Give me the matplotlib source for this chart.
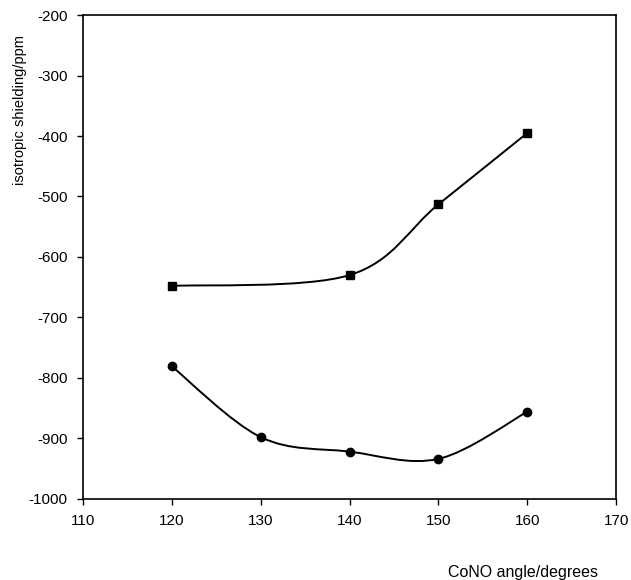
import numpy as np
import matplotlib.pyplot as plt
from matplotlib.path import Path
from matplotlib.patches import PathPatch

plt.rcParams['font.family'] = ['Liberation Sans', 'DejaVu Sans']
plt.rcParams['axes.unicode_minus'] = False

# CoNO angle (degrees) vs isotropic shielding (ppm)
angle_sq = [120, 140, 150, 160]
shield_sq = [-648, -630, -513, -395]

angle_ci = [120, 130, 140, 150, 160]
shield_ci = [-781, -898, -922, -934, -856]

xticks = [110, 120, 130, 140, 150, 160, 170]
yticks = [-1000, -900, -800, -700, -600, -500, -400, -300, -200]


def smooth_path(ax, xs, ys):
	# cubic bezier through the points, like a spreadsheet "smoothed line"
	p = np.column_stack([xs, ys]).astype(float)
	pad = np.vstack([p[0], p, p[-1]])
	verts = [p[0]]
	codes = [Path.MOVETO]
	for i in range(len(p) - 1):
		c1 = pad[i + 1] + (pad[i + 2] - pad[i]) / 6.0
		c2 = pad[i + 2] - (pad[i + 3] - pad[i + 1]) / 6.0
		verts += [c1, c2, pad[i + 2]]
		codes += [Path.CURVE4] * 3
	ax.add_patch(PathPatch(Path(verts, codes), fill=False, lw=1.4, ec='black', zorder=2))


fig = plt.figure(figsize=(6.31, 5.8), dpi=100)
ax = fig.add_axes([0.1315, 0.140, 0.845, 0.834])

smooth_path(ax, angle_sq, shield_sq)
smooth_path(ax, angle_ci, shield_ci)
ax.plot(angle_sq, shield_sq, 's', color='black', ms=6, zorder=3)
ax.plot(angle_ci, shield_ci, 'o', color='black', ms=6, zorder=3)

ax.set_xlim(110, 170)
ax.set_ylim(-1000, -200)
ax.set_xticks(xticks)
ax.set_yticks(yticks)
ax.tick_params(direction='out', length=4, width=1, labelsize=11, pad=7)
for s in ax.spines.values():
	s.set_linewidth(1.2)

fig.text(0.031, 0.81, 'isotropic shielding/ppm', rotation=90, ha='center', va='center', fontsize=10.5)
fig.text(0.829, 0.013, 'CoNO angle/degrees', ha='center', va='center', fontsize=11.5)

fig.savefig('out.png', dpi=100)
